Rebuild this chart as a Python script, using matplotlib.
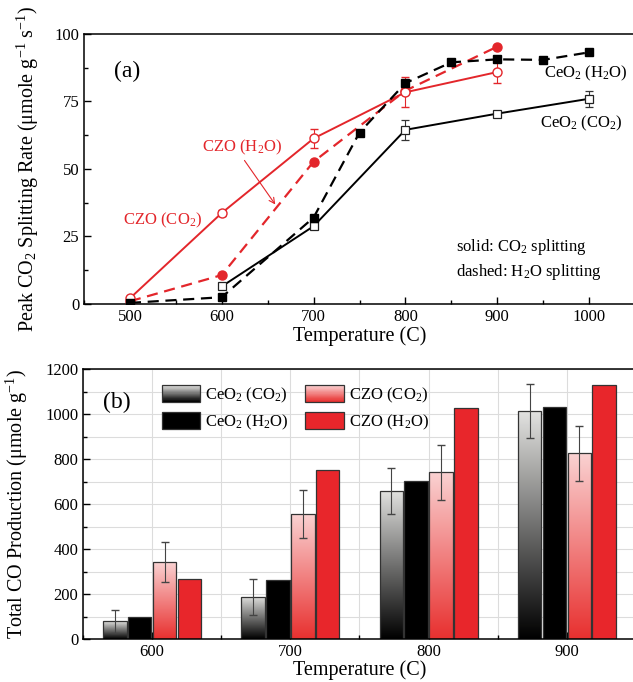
import matplotlib
matplotlib.use('Agg')
import matplotlib.pyplot as plt
import numpy as np
from matplotlib.colors import LinearSegmentedColormap
from matplotlib.legend_handler import HandlerBase
from matplotlib.patches import Rectangle
from matplotlib.ticker import MultipleLocator

plt.rcParams['font.family'] = ['Liberation Serif', 'DejaVu Serif']
plt.rcParams['mathtext.fontset'] = 'custom'
plt.rcParams['mathtext.rm'] = 'Liberation Serif'
plt.rcParams['mathtext.it'] = 'Liberation Serif:italic'

RED = '#e3262b'

# ---- panel (a): peak splitting rate ----
ceo2_co2_T = [600, 700, 800, 900, 1000]
ceo2_co2_rate = [6.5, 28.8, 64.5, 70.5, 76.0]
ceo2_co2_err = [0, 0, 3.8, 0, 3.0]

ceo2_h2o_T = [500, 600, 700, 750, 800, 850, 900, 950, 1000]
ceo2_h2o_rate = [0.4, 2.5, 32.0, 63.5, 81.8, 89.5, 90.6, 90.4, 93.2]

czo_co2_T = [500, 600, 700, 800, 900]
czo_co2_rate = [2.1, 33.7, 61.3, 78.4, 85.9]
czo_co2_err = [0, 1.0, 3.5, 5.5, 4.2]

czo_h2o_T = [500, 600, 700, 800, 900]
czo_h2o_rate = [1.0, 10.7, 52.7, 79.0, 95.3]

# ---- panel (b): total CO production ----
temps = [600, 700, 800, 900]
ceo2_co2_prod = [78, 187, 658, 1013]
ceo2_co2_prod_err = [50, 81, 101, 121]
ceo2_h2o_prod = [100, 261, 703, 1033]
czo_co2_prod = [341, 555, 741, 825]
czo_co2_prod_err = [89, 108, 122, 121]
czo_h2o_prod = [267, 753, 1026, 1129]


class GradientHandler(HandlerBase):
    def __init__(self, c_bot, c_top):
        super().__init__()
        self.cmap = LinearSegmentedColormap.from_list('g', [c_bot, c_top])

    def create_artists(self, legend, orig_handle, xdescent, ydescent,
                       width, height, fontsize, trans):
        arts = []
        n = 30
        for i in range(n):
            r = Rectangle((-xdescent, -ydescent + height * i / n), width,
                          height / n * 1.05, facecolor=self.cmap(i / (n - 1)),
                          edgecolor='none', transform=trans)
            arts.append(r)
        arts.append(Rectangle((-xdescent, -ydescent), width, height,
                              facecolor='none', edgecolor='#333333', lw=0.9,
                              transform=trans))
        return arts


def gradient_bars(ax, bars, c_bot, c_top):
    cmap = LinearSegmentedColormap.from_list('g', [c_bot, c_top])
    grad = np.linspace(0, 1, 256).reshape(-1, 1)
    for b in bars:
        x0, y0 = b.get_x(), b.get_y()
        w, h = b.get_width(), b.get_height()
        im = ax.imshow(grad, cmap=cmap, origin='lower', aspect='auto',
                       extent=(x0, x0 + w, y0, y0 + h), zorder=1.9)
        im.set_clip_path(b)
        b.set_facecolor('none')


fig = plt.figure(figsize=(6.33, 6.82), dpi=100)
ax1 = fig.add_axes([0.1327, 0.5543, 0.8705, 0.3959])
ax2 = fig.add_axes([0.1311, 0.0630, 0.8736, 0.3959])

# panel (a)
ax1.plot(czo_co2_T, czo_co2_rate, '-', color=RED, lw=1.4, zorder=2)
ax1.errorbar(czo_co2_T, czo_co2_rate, yerr=czo_co2_err, fmt='o', ms=6.5,
             mfc='white', mec=RED, mew=1.0, ecolor=RED, elinewidth=0.8,
             capsize=3, zorder=3)
ax1.plot(czo_h2o_T, czo_h2o_rate, '--', color=RED, lw=1.6, dashes=(5, 3),
         marker='o', ms=6.5, mfc=RED, mec=RED, zorder=3)
ax1.plot(ceo2_co2_T, ceo2_co2_rate, '-', color='black', lw=1.4, zorder=4)
ax1.errorbar(ceo2_co2_T, ceo2_co2_rate, yerr=ceo2_co2_err, fmt='s', ms=6,
             mfc='white', mec='#222222', mew=0.9, ecolor='#333333',
             elinewidth=0.8, capsize=3, zorder=4)
ax1.plot(ceo2_h2o_T, ceo2_h2o_rate, '--', color='black', lw=1.6,
         dashes=(5, 3), marker='s', ms=6, mfc='black', mec='black', zorder=5)

ax1.set_xlim(450, 1050)
ax1.set_ylim(0, 100)
ax1.xaxis.set_major_locator(MultipleLocator(100))
ax1.xaxis.set_minor_locator(MultipleLocator(50))
ax1.yaxis.set_major_locator(MultipleLocator(25))
ax1.yaxis.set_minor_locator(MultipleLocator(12.5))
ax1.tick_params(which='both', direction='in', labelsize=12, width=1.0)
ax1.tick_params(which='major', length=5)
ax1.tick_params(which='minor', length=3)
ax1.set_xlabel('Temperature (C)', fontsize=14.5, labelpad=1)
ax1.set_ylabel('Peak CO$_2$ Splitting Rate (\u03bcmole g$^{-1}$ s$^{-1}$)',
               fontsize=14.5)
ax1.yaxis.set_label_coords(-0.078, 0.5)
for s in ax1.spines.values():
    s.set_linewidth(1.1)

ax1.text(0.055, 0.86, '(a)', transform=ax1.transAxes, fontsize=17,
         va='center', ha='left')
ax1.text(951, 85.5, 'CeO$_2$ (H$_2$O)', fontsize=12, va='center')
ax1.text(946, 67.0, 'CeO$_2$ (CO$_2$)', fontsize=12, va='center')
ax1.text(492, 31, 'CZO (CO$_2$)', fontsize=12, va='center', color=RED)
ax1.text(579, 58, 'CZO (H$_2$O)', fontsize=12, va='center', color=RED)
ax1.text(0.676, 0.211, 'solid: CO$_2$ splitting', transform=ax1.transAxes,
         fontsize=12, va='center')
ax1.text(0.676, 0.118, 'dashed: H$_2$O splitting', transform=ax1.transAxes,
         fontsize=12, va='center')
ax1.annotate('', xy=(660, 36.0), xytext=(623, 54.0),
             arrowprops=dict(arrowstyle='->', color=RED, lw=0.8,
                             mutation_scale=10))

# panel (b)
x = np.array(temps, dtype=float)
bw = 17
offs = [-27, -9, 9, 27]
ax2.set_axisbelow(True)
b1 = ax2.bar(x + offs[0], ceo2_co2_prod, bw, edgecolor='#333333', lw=0.9,
             zorder=2, label='CeO$_2$ (CO$_2$)')
b2 = ax2.bar(x + offs[1], ceo2_h2o_prod, bw, color='black',
             edgecolor='#333333', lw=0.9, zorder=2, label='CeO$_2$ (H$_2$O)')
b3 = ax2.bar(x + offs[2], czo_co2_prod, bw, edgecolor='#333333', lw=0.9,
             zorder=2, label='CZO (CO$_2$)')
b4 = ax2.bar(x + offs[3], czo_h2o_prod, bw, color='#e8262b',
             edgecolor='#333333', lw=0.9, zorder=2, label='CZO (H$_2$O)')
gradient_bars(ax2, b1, '#000000', '#e2e2e0')
gradient_bars(ax2, b3, '#e8302f', '#fad2d2')
ax2.errorbar(x + offs[0], ceo2_co2_prod, yerr=ceo2_co2_prod_err, fmt='none',
             ecolor='#444444', elinewidth=0.8, capsize=3, zorder=3)
ax2.errorbar(x + offs[2], czo_co2_prod, yerr=czo_co2_prod_err, fmt='none',
             ecolor='#444444', elinewidth=0.8, capsize=3, zorder=3)

ax2.set_xlim(550, 950)
ax2.set_ylim(0, 1200)
ax2.set_xticks(temps)
ax2.xaxis.set_minor_locator(MultipleLocator(50))
ax2.yaxis.set_major_locator(MultipleLocator(200))
ax2.yaxis.set_minor_locator(MultipleLocator(100))
ax2.grid(which='both', color='#dcdcdc', lw=0.8)
ax2.tick_params(which='both', direction='in', labelsize=12, width=1.0)
ax2.tick_params(which='major', length=5)
ax2.tick_params(which='minor', length=3)
ax2.set_xlabel('Temperature (C)', fontsize=14.5, labelpad=0)
ax2.set_ylabel('Total CO Production (\u03bcmole g$^{-1}$)', fontsize=14.5)
ax2.yaxis.set_label_coords(-0.096, 0.5)
for s in ax2.spines.values():
    s.set_linewidth(1.1)
ax2.text(0.036, 0.875, '(b)', transform=ax2.transAxes, fontsize=17,
         va='center', ha='left')

h1 = Rectangle((0, 0), 1, 1)
h3 = Rectangle((0, 0), 1, 1)
ax2.legend([h1, b2, h3, b4],
           ['CeO$_2$ (CO$_2$)', 'CeO$_2$ (H$_2$O)', 'CZO (CO$_2$)',
            'CZO (H$_2$O)'],
           handler_map={h1: GradientHandler('#000000', '#e2e2e0'),
                        h3: GradientHandler('#e8302f', '#fad2d2')},
           ncol=2, loc='upper left', bbox_to_anchor=(0.142, 0.94),
           frameon=False, fontsize=12, handlelength=2.3, handleheight=1.15,
           handletextpad=0.3, columnspacing=1.0, labelspacing=0.45,
           borderpad=0, borderaxespad=0)

plt.savefig('out.png', dpi=100)
